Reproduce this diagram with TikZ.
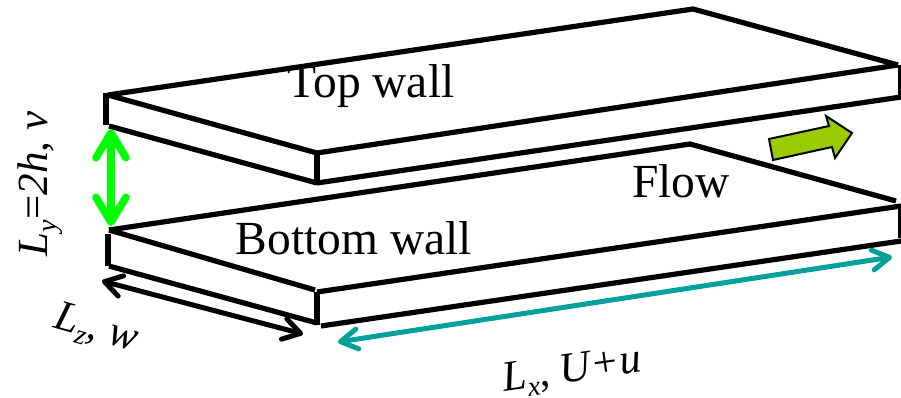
\documentclass[tikz,border=0pt]{standalone}
\usepackage{fontspec}
\setmainfont{Liberation Serif}
\usetikzlibrary{arrows.meta}
\definecolor{tealc}{HTML}{00A19A}
\definecolor{greenc}{HTML}{00FF00}
\definecolor{olivec}{HTML}{99CC00}
\tikzset{
  edge/.style={draw=black,line width=5.2pt,line cap=butt,line join=miter},
  post/.style={draw=black,line width=6pt,line cap=butt},
  wallabel/.style={font=\fontsize{47.5}{47.5}\selectfont,text=black,inner sep=0pt},
  dimlabel/.style={font=\fontsize{43}{43}\selectfont\itshape,text=black,inner sep=0pt},
  blackdim/.style={draw=black,line width=5pt,line cap=round,{Straight Barb[length=17pt,width=21pt,round]}-{Straight Barb[length=17pt,width=21pt,round]}},
  greendim/.style={draw=greenc,line width=7.5pt,line cap=round,{Straight Barb[length=25pt,width=30pt,round]}-{Straight Barb[length=25pt,width=30pt,round]}},
  tealdim/.style={draw=tealc,line width=5pt,line cap=round,{Straight Barb[length=17pt,width=20pt,round]}-{Straight Barb[length=17pt,width=20pt,round]}},
  flowarrow/.style={draw=black,line width=2pt,fill=olivec,line join=miter}
}
\newcommand{\sbs}[1]{\raisebox{-9pt}{\fontsize{28}{28}\selectfont\itshape #1}}
\begin{document}
\begin{tikzpicture}[x=1pt,y=-1pt]
\useasboundingbox (0,0) rectangle (901,398);
% top wall
\coordinate (ta) at (108,95);
\coordinate (tb) at (693,9);
\coordinate (tc) at (898,65);
\coordinate (td) at (317,153);
\draw[edge] (ta) -- (tb) -- (tc);
\draw[edge] (ta) -- (td) -- (tc);
\draw[post] (106,93) -- (106,125);
\draw[post] (317,152) -- (317,185);
\draw[edge] (109,126) -- (317,183);
\draw[edge] (317,183) -- (901,97);
\draw[line width=3pt] (899.5,65) -- (899.5,97);
% bottom wall
\coordinate (ba) at (109,230);
\coordinate (bb) at (690,144);
\coordinate (bc) at (896,201);
\draw[edge] (ba) -- (bb) -- (bc);
\draw[edge] (ba) -- (315,290);
\draw[edge] (317,292) -- (901,206);
\draw[post] (108,234) -- (108,266);
\draw[post] (317,292) -- (317,325);
\draw[edge] (109,266) -- (317,323);
\draw[edge] (321,326) -- (901,241);
\draw[line width=3pt] (899.5,206) -- (899.5,238);
% dimension arrows
\coordinate (gt) at (111,129);
\coordinate (gb) at (111,226);
\draw[greendim] (gt) -- (gb);
\coordinate (kl) at (102,281);
\coordinate (kr) at (303,334);
\draw[blackdim] (kl) -- (kr);
\coordinate (xl) at (338,342);
\coordinate (xr) at (892,257);
\draw[tealdim] (xl) -- (xr);
% flow arrow
\draw[flowarrow] (769,139) -- (829,126) -- (826,116) -- (852,133) -- (835,158) -- (832,147) -- (773,160) -- cycle;
% labels
\node[wallabel] (top) at (371,86) {Top wall};
\node[wallabel] (flow) at (681,181) {Flow};
\node[wallabel] (bottom) at (354,238) {Bottom wall};
\node[dimlabel,rotate=90] (ly) at (40,184) {L\sbs{y}\upshape =\itshape 2h, v};
\node[dimlabel,rotate=-16] (lz) at (96,330) {L\sbs{z}, w};
\node[dimlabel,rotate=8] (lx) at (572,372) {L\sbs{x}, U+u};
\end{tikzpicture}
\end{document}
